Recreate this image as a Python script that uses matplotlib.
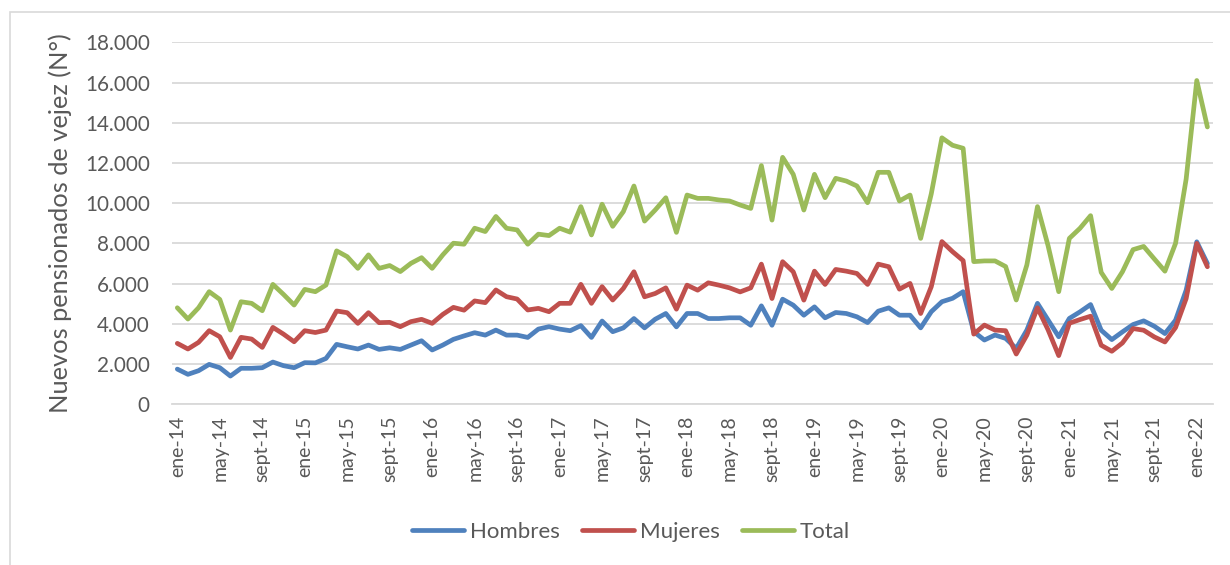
import matplotlib
matplotlib.use('Agg')
import matplotlib.pyplot as plt
from matplotlib.patches import Rectangle
from matplotlib.ticker import FuncFormatter
import numpy as np

# Monthly series, ene-14 .. feb-22
meses = ['ene', 'feb', 'mar', 'abr', 'may', 'jun',
         'jul', 'ago', 'sept', 'oct', 'nov', 'dic']
fechas = [f'{meses[k % 12]}-{14 + k // 12}' for k in range(98)]

hombres = [
    1750, 1490, 1670, 1985, 1820, 1405, 1790, 1790, 1820, 2100, 1920, 1820,
    2070, 2060, 2280, 2980, 2860, 2750, 2945, 2730, 2810, 2730, 2945, 3160,
    2700, 2945, 3230, 3400, 3560, 3440, 3690, 3440, 3440, 3325, 3740, 3860,
    3740, 3660, 3910, 3325, 4140, 3610, 3800, 4265, 3800, 4230, 4515, 3850,
    4515, 4515, 4265, 4265, 4300, 4300, 3930, 4895, 3930, 5227, 4930, 4430,
    4845, 4300, 4565, 4515, 4350, 4065, 4630, 4795, 4430, 4430, 3800, 4605,
    5100, 5270, 5600, 3610, 3195, 3445, 3277, 2780, 3690, 5020, 4190, 3360,
    4270, 4596, 4960, 3683, 3218, 3600, 3965, 4148, 3882, 3517, 4180, 5675,
    8080, 7000]

mujeres = [
    3030, 2750, 3080, 3660, 3360, 2330, 3330, 3245, 2830, 3825, 3490, 3110,
    3660, 3570, 3690, 4640, 4555, 4025, 4555, 4060, 4075, 3860, 4110, 4225,
    4025, 4470, 4820, 4680, 5140, 5055, 5685, 5350, 5235, 4690, 4770, 4605,
    5020, 5020, 5965, 5020, 5850, 5185, 5760, 6590, 5345, 5510, 5790, 4730,
    5925, 5675, 6040, 5925, 5790, 5590, 5790, 6970, 5260, 7090, 6590, 5180,
    6620, 5960, 6705, 6620, 6505, 5960, 6970, 6840, 5725, 6010, 4515, 5850,
    8090, 7590, 7145, 3490, 3940, 3690, 3660, 2500, 3440, 4800, 3700, 2420,
    4030, 4214, 4380, 2936, 2637, 3052, 3766, 3683, 3350, 3100, 3816, 5260,
    8000, 6840]

total = [
    4800, 4240, 4800, 5600, 5216, 3690, 5100, 5020, 4653, 5962, 5465, 4935,
    5713, 5600, 5930, 7630, 7340, 6760, 7430, 6760, 6900, 6600, 7010, 7290,
    6760, 7430, 8010, 7960, 8755, 8590, 9340, 8755, 8670, 7960, 8460, 8390,
    8755, 8560, 9830, 8420, 9950, 8850, 9580, 10855, 9110, 9660, 10270, 8550,
    10405, 10240, 10240, 10160, 10110, 9910, 9740, 11870, 9160, 12280, 11435,
    9660, 11435, 10275, 11235, 11100, 10855, 10025, 11535, 11535, 10110,
    10405, 8250, 10470, 13250, 12880, 12730, 7095, 7130, 7130, 6850, 5185,
    6930, 9830, 7880, 5600, 8250, 8750, 9380, 6560, 5760, 6590, 7690, 7850,
    7230, 6620, 8000, 11200, 16100, 13790]

series = ['Hombres', 'Mujeres', 'Total']
colores = ['#4F81BD', '#C0504D', '#9BBB59']

plt.rcParams['font.family'] = ['Lato', 'DejaVu Sans']
gris = '#595959'

fig = plt.figure(figsize=(12.3, 5.65), dpi=100)
# chart area border
fig.patches.append(Rectangle((10 / 1230, -0.1), 1.2, 1.1 - 12 / 565,
                             transform=fig.transFigure, fill=False,
                             edgecolor='#D9D9D9', lw=1.2))
ax = fig.add_axes([172 / 1230, 1 - 404.3 / 565,
                   (1212.7 - 172) / 1230, (404.3 - 42.3) / 565])

x = np.arange(len(fechas))
for nombre, datos, color in zip(series, [hombres, mujeres, total], colores):
    ax.plot(x, datos, color=color, lw=3.4, label=nombre,
            solid_joinstyle='round', solid_capstyle='round')

ax.set_xlim(-0.5, len(fechas) - 0.5)
ax.set_ylim(0, 18000)
ax.set_yticks(np.arange(0, 18001, 2000))
ax.yaxis.set_major_formatter(
    FuncFormatter(lambda v, p: f'{v:,.0f}'.replace(',', '.')))
ax.set_xticks(x[::4])
ax.set_xticklabels(fechas[::4], rotation=90)
ax.tick_params(axis='both', length=0, colors=gris)
ax.tick_params(axis='y', pad=16, labelsize=14.9)
ax.tick_params(axis='x', pad=8, labelsize=14)

ax.grid(axis='y', color='#D9D9D9', lw=1.3)
ax.set_axisbelow(True)
for s in ['top', 'right', 'left']:
    ax.spines[s].set_visible(False)
ax.spines['bottom'].set_color('#D9D9D9')
ax.spines['bottom'].set_linewidth(1.3)

ax.set_ylabel('Nuevos pensionados de vejez (N°)', fontsize=18.3, color=gris)
ax.yaxis.set_label_coords(-0.096, 0.5)

fig.legend(loc='center', bbox_to_anchor=(631 / 1230, 1 - 532 / 565),
           ncol=3, frameon=False, fontsize=16, handlelength=2.35,
           columnspacing=1.0, handletextpad=0.25, labelcolor=gris)

fig.savefig('out.png', dpi=100)
